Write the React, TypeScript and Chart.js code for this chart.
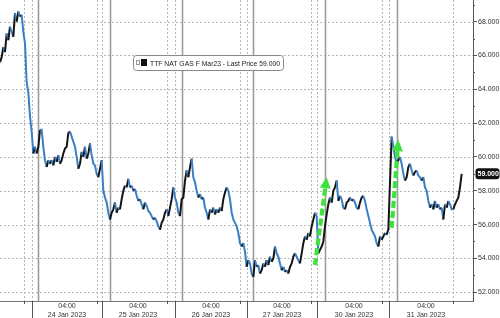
import React, { useEffect, useRef } from "react";
import { Chart, registerables } from "chart.js";

Chart.register(...registerables);

const seriesName = "TTF NAT GAS F Mar23";

// price per time slot (compressed trading-time axis)
const prices = [
  65.6, 65.9, 66.5, 66.2, 67.3, 66.9, 67.7, 67.4, 67.1, 68.5,
  68.0, 68.6, 68.3, 68.4, 67.4, 66.7, 64.4, 63.8, 62.4, 61.5,
  60.2, 60.6, 60.2, 60.6, 61.6, 61.6, 60.6, 59.8, 59.4, 59.8,
  59.6, 59.8, 59.5, 60.0, 59.7, 60.1, 59.6, 59.8, 60.2, 60.5,
  60.6, 61.4, 61.5, 61.2, 60.9, 60.6, 60.0, 59.3, 59.6, 60.3,
  60.0, 60.6, 59.9, 60.2, 60.8, 60.1, 59.6, 59.5, 59.0, 58.8,
  59.3, 59.8, 58.0, 57.6, 57.3, 56.7, 56.3, 56.7, 56.9, 57.3,
  56.7, 57.0, 56.9, 57.5, 58.0, 58.3, 58.2, 58.7, 58.2, 58.3,
  58.0, 58.1, 57.7, 57.4, 57.5, 57.2, 56.9, 57.3, 57.1, 56.8,
  56.7, 56.5, 56.3, 56.4, 56.2, 55.9, 55.7, 56.1, 56.3, 56.7,
  56.9, 56.5, 57.0, 57.5, 58.2, 57.6, 57.3, 56.7, 56.5, 57.5,
  57.6, 58.6, 59.2, 58.8, 59.4, 59.9, 58.8, 58.5, 58.0, 57.6,
  57.8, 57.5, 57.6, 57.0, 56.7, 56.3, 56.9, 56.7, 57.0, 56.6,
  56.9, 56.7, 57.0, 56.8, 57.5, 57.9, 58.2, 58.0, 57.5, 56.7,
  56.3, 56.1, 55.9, 55.5, 54.9, 54.7, 54.9, 54.4, 53.5, 53.9,
  53.7, 53.1, 52.9, 53.9, 53.5, 53.6, 53.1, 53.3, 53.7, 53.5,
  53.9, 53.6, 54.1, 53.8, 54.0, 54.7, 54.3, 54.1, 53.7, 53.3,
  53.5, 53.2, 53.3, 53.1, 53.5, 53.7, 54.1, 54.3, 54.1, 53.9,
  53.7, 54.3, 54.9, 55.3, 55.1, 55.5, 55.3, 55.9, 56.3, 56.7,
  56.5, 54.3, 54.5, 54.7, 55.0, 55.9, 56.6, 57.2, 57.6, 57.3,
  58.0, 58.2, 58.6, 57.4, 57.7, 57.5, 57.0, 56.9, 57.3, 57.4,
  57.6, 57.4, 57.5, 57.3, 57.0, 56.9, 57.3, 57.6, 57.7, 57.4,
  56.9, 56.5, 56.1, 55.7, 55.5, 55.3, 54.9, 54.7, 55.3, 55.1,
  55.3, 55.5, 55.4, 55.7, 58.5, 61.2, 60.6, 60.0, 59.6, 59.8,
  60.0, 59.6, 59.0, 58.6, 58.8, 59.4, 59.6, 59.2, 58.9, 59.1,
  59.2, 58.9, 58.8, 58.6, 58.8, 58.2, 58.0, 57.4, 57.0, 57.2,
  56.9, 57.4, 57.0, 57.2, 56.9, 57.0, 56.3, 57.2, 57.0, 57.4,
  57.2, 56.9, 56.9, 57.2, 57.4, 57.6, 58.2, 59.0,
];

const tickSlots = [40.2, 82.8, 126.6, 169.2, 212.4, 255.6];
const tickTimes = ["04:00", "04:00", "04:00", "04:00", "04:00", "04:00"];
const tickDates = ["24 Jan 2023", "25 Jan 2023", "26 Jan 2023", "27 Jan 2023", "30 Jan 2023", "31 Jan 2023"];

const yTicks = [52, 54, 56, 58, 60, 62, 64, 66, 68];
const yMinorTicks = [53, 55, 57, 59, 61, 63, 65, 67, 69];

const dayBoundarySlots = [19, 61, 105, 148, 190, 233.7];
const preBoundarySlots = [14.4, 58, 100, 144, 186.3, 229.2, 272];
const sessionSlots = [22.6, 66, 109, 151.8, 195, 238];

// annotation arrows: [slot, price]
const arrowFrom = [[189, 53.6], [235, 55.8]];
const arrowTo = [[196, 58.8], [239, 61.0]];

const FONT = "'Liberation Sans', Arial, sans-serif";
const BLUE = "#3a7fc6";
const BLACK = "#151515";

const decor = {
  id: "decor",
  beforeDatasetsDraw(chart: any) {
    const { ctx, chartArea: a, scales } = chart;
    const x = scales.x, y = scales.y;
    ctx.save();
    ctx.lineWidth = 1;
    ctx.strokeStyle = "#b8b8b8";
    ctx.setLineDash([2, 2]);
    for (const v of yTicks) {
      const py = Math.round(y.getPixelForValue(v)) + 0.5;
      ctx.beginPath(); ctx.moveTo(a.left, py); ctx.lineTo(a.right, py); ctx.stroke();
    }
    for (const s of [...preBoundarySlots, ...dayBoundarySlots]) {
      const px = Math.round(x.getPixelForValue(s)) + 0.5;
      ctx.beginPath(); ctx.moveTo(px, a.top); ctx.lineTo(px, a.bottom); ctx.stroke();
    }
    ctx.setLineDash([]);
    ctx.strokeStyle = "#9c9c9c";
    ctx.lineWidth = 1.6;
    for (const s of sessionSlots) {
      const px = Math.round(x.getPixelForValue(s)) + 0.5;
      ctx.beginPath(); ctx.moveTo(px, a.top); ctx.lineTo(px, a.bottom); ctx.stroke();
    }
    ctx.restore();
  },
  afterDraw(chart: any) {
    const { ctx, chartArea: a, scales } = chart;
    const x = scales.x, y = scales.y;
    const H = chart.height;
    ctx.save();
    // day boundary ticks below axis
    ctx.strokeStyle = "#555";
    ctx.lineWidth = 1;
    for (const s of dayBoundarySlots) {
      const px = Math.round(x.getPixelForValue(s)) + 0.5;
      ctx.beginPath(); ctx.moveTo(px, a.bottom); ctx.lineTo(px, H); ctx.stroke();
    }
    for (const s of preBoundarySlots) {
      const px = Math.round(x.getPixelForValue(s)) + 0.5;
      ctx.beginPath(); ctx.moveTo(px, a.bottom); ctx.lineTo(px, a.bottom + 3); ctx.stroke();
    }
    // minor y ticks
    for (const v of yMinorTicks) {
      const py = Math.round(y.getPixelForValue(v)) + 0.5;
      if (py < a.top) continue;
      ctx.beginPath(); ctx.moveTo(a.right, py); ctx.lineTo(a.right + 2, py); ctx.stroke();
    }
    // arrows
    ctx.beginPath();
    ctx.rect(a.left, a.top, a.right - a.left, a.bottom - a.top);
    ctx.clip();
    for (let k = 0; k < arrowFrom.length; k++) {
      const x0 = x.getPixelForValue(arrowFrom[k][0]);
      const y0 = y.getPixelForValue(arrowFrom[k][1]);
      const x1 = x.getPixelForValue(arrowTo[k][0]);
      const y1 = y.getPixelForValue(arrowTo[k][1]);
      const dx = x1 - x0, dy = y1 - y0;
      const len = Math.hypot(dx, dy);
      const ux = dx / len, uy = dy / len;
      const headLen = 11, headW = 5.5;
      const bx = x1 - ux * headLen, by = y1 - uy * headLen;
      ctx.strokeStyle = "#3ee23e";
      ctx.fillStyle = "#3ee23e";
      ctx.lineWidth = 4.2;
      ctx.setLineDash([7, 3]);
      ctx.beginPath(); ctx.moveTo(x0, y0); ctx.lineTo(bx, by); ctx.stroke();
      ctx.setLineDash([]);
      ctx.beginPath();
      ctx.moveTo(x1, y1);
      ctx.lineTo(bx - uy * headW, by + ux * headW);
      ctx.lineTo(bx + uy * headW, by - ux * headW);
      ctx.closePath();
      ctx.fill();
    }
    ctx.restore();

    ctx.save();
    // legend box
    const lx = 133.5, ly = 55.5, lw = 150, lh = 15;
    ctx.fillStyle = "#ffffff";
    ctx.strokeStyle = "#8a8a8a";
    ctx.lineWidth = 1;
    ctx.beginPath();
    ctx.roundRect(lx, ly, lw, lh, 3);
    ctx.fill(); ctx.stroke();
    ctx.strokeStyle = "#999";
    ctx.strokeRect(136.5, 60.5, 3, 4);
    ctx.fillStyle = "#111";
    ctx.fillRect(141, 59, 6, 7);
    ctx.fillStyle = "#222";
    ctx.font = `7.4px ${FONT}`;
    ctx.textBaseline = "middle";
    ctx.textAlign = "left";
    const last = prices[prices.length - 1];
    ctx.fillText(`${seriesName} - Last Price ${last.toFixed(3)}`, 150, 63.5, 130);
    // last price tag
    const py = y.getPixelForValue(last);
    ctx.fillStyle = "#111";
    ctx.beginPath();
    ctx.roundRect(a.right + 2.5, py - 5.5, 24, 11, 3);
    ctx.fill();
    ctx.fillStyle = "#fff";
    ctx.font = `bold 7px ${FONT}`;
    ctx.fillText(last.toFixed(3), a.right + 4.5, py + 0.5);
    ctx.restore();
  },
};

export default function App() {
  const ref = useRef<HTMLCanvasElement | null>(null);
  useEffect(() => {
    if (!ref.current) return;
    const chart = new Chart(ref.current, {
      type: "line",
      data: {
        datasets: [
          {
            label: seriesName,
            data: prices.map((v, i) => ({ x: i, y: v })),
            borderColor: BLUE,
            borderWidth: 2,
            pointRadius: 0,
            tension: 0,
            segment: {
              borderColor: (c: any) => (c.p1.parsed.y > c.p0.parsed.y ? BLACK : BLUE),
            },
          },
        ],
      },
      options: {
        responsive: false,
        animation: false,
        events: [],
        layout: { padding: 0 },
        plugins: { legend: { display: false }, tooltip: { enabled: false } },
        scales: {
          x: {
            type: "linear",
            min: 0,
            max: 283.8,
            afterBuildTicks: (s: any) => {
              s.ticks = tickSlots.map((v) => ({ value: v }));
            },
            afterFit: (s: any) => {
              s.height = 17;
              s.paddingLeft = 0;
              s.paddingRight = 0;
            },
            ticks: {
              autoSkip: false,
              maxRotation: 0,
              minRotation: 0,
              padding: 1,
              color: "#333",
              font: { family: FONT, size: 7, lineHeight: 1.25 },
              callback: (_v: any, i: number) => [tickTimes[i], tickDates[i]],
            },
            grid: { drawOnChartArea: false, drawTicks: false },
            border: { display: true, color: "#777", width: 1 },
          },
          y: {
            position: "right",
            min: 51.48,
            max: 69.28,
            afterBuildTicks: (s: any) => {
              s.ticks = yTicks.map((v) => ({ value: v }));
            },
            afterFit: (s: any) => {
              s.width = 27;
              s.paddingTop = 0;
              s.paddingBottom = 0;
            },
            ticks: {
              padding: 1,
              color: "#333",
              font: { family: FONT, size: 7 },
              callback: (v: any) => Number(v).toFixed(3),
            },
            grid: { drawOnChartArea: false, drawTicks: true, tickLength: 4, tickColor: "#555" },
            border: { display: true, color: "#555", width: 1 },
          },
        },
      },
      plugins: [decor],
    } as any);
    return () => chart.destroy();
  }, []);
  return (
    <div style={{ position: "absolute", left: 0, top: 0, width: 500, height: 318, background: "#fff" }}>
      <canvas ref={ref} width={500} height={318} style={{ display: "block" }} />
    </div>
  );
}
